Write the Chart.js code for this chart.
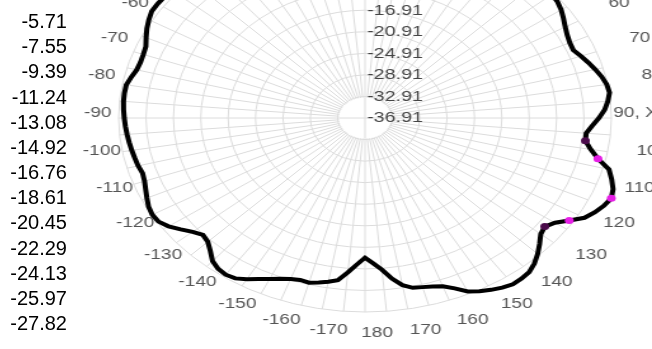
<!DOCTYPE html>
<html>
<head>
<meta charset="utf-8">
<script src="https://cdn.jsdelivr.net/npm/chart.js@4.4.1/dist/chart.umd.min.js"></script>
<style>
  html, body { margin: 0; padding: 0; background: #fff; width: 652px; height: 349px; overflow: hidden; }
  #scaleList {
    position: absolute; left: 0; top: 9px; width: 67px; z-index: 2;
    text-align: right; font: 20px Arial, "Liberation Sans", sans-serif;
    line-height: 25.17px; color: #000;
  }
  #polarChart {
    position: absolute; left: 65px; top: -126px;
    transform: scaleX(1.27); transform-origin: 300px 244px;
  }
</style>
</head>
<body>
<div id="scaleList"></div>
<canvas id="polarChart" width="600" height="489"></canvas>
<script>
// colour scale values shown on the left
const legendValues = [-5.71, -7.55, -9.39, -11.24, -13.08, -14.92, -16.76, -18.61, -20.45, -22.29, -24.13, -25.97, -27.82];

// radial rings
const ringMin = -36.91;
const ringMax = -0.91;
const ringStep = 4;

// angle categories, every 2.5 degrees clockwise from top
const angles = [];
for (let a = 0; a < 360; a += 2.5) angles.push(a);

// pattern values per angle (dB)
const gain = [
  -1.10, -1.10, -1.00, -0.91, -0.91, -1.00, -1.10, -1.28, -1.47, -1.56,
  -1.66, -1.56, -1.47, -1.28, -1.10, -1.00, -0.91, -1.00, -1.10, -1.19,
  -1.28, -1.47, -1.92, -2.53, -3.13, -3.60, -3.89, -3.97, -3.33, -2.70,
  -2.08, -1.49, -1.04, -0.87, -1.30, -1.86, -2.72, -3.69, -4.47, -4.43,
  -3.43, -2.05, 0.00, 0.88, 1.66, 2.04, 1.61, 0.97, 0.12, -1.53,
  -3.02, -3.80, -3.39, -2.31, -1.23, -0.28, 0.41, 0.66, 0.75, 0.40,
  -0.09, -0.67, -1.41, -2.68, -3.67, -4.14, -4.42, -4.64, -5.42, -6.84,
  -8.67, -9.94, -10.98, -9.70, -8.15, -6.54, -6.04, -5.65, -5.27, -5.39,
  -5.12, -4.60, -3.95, -3.24, -2.38, -1.62, -1.41, -1.64, -2.25, -3.45,
  -4.42, -4.79, -4.02, -2.96, -1.86, -1.13, -1.02, -1.26, -1.75, -2.22,
  -2.63, -2.83, -2.59, -2.46, -2.31, -2.16, -2.01, -1.86, -1.73, -1.60,
  -1.49, -1.45, -1.49, -1.92, -2.38, -2.51, -2.44, -2.25, -1.62, -0.98,
  -0.44, 0.02, 0.06, 0.02, -0.16, -0.26, -0.35, -0.44, -0.54, -0.63,
  -0.72, -0.82, -0.91, -0.91, -1.00, -1.00, -1.10, -1.10, -1.10, -1.10,
  -1.10, -1.10, -1.10, -1.10
];

// marked points on the curve
const markerAngles = [97.5, 102.5, 112.5, 122.5, 127.5];
const markerColors = ["#4a0a4a", "#e61ee6", "#e61ee6", "#e61ee6", "#4a0a4a"];

document.addEventListener("DOMContentLoaded", function () {
  document.getElementById("scaleList").innerHTML = legendValues
    .map((v) => "<div>" + v.toFixed(2) + "</div>")
    .join("");

  Chart.defaults.font.family = 'Arial, "Liberation Sans", sans-serif';

  const gridColor = "#dcdcdc";

  const angleText = (a) => {
    if (a === 90) return "90, X";
    return String(a <= 180 ? a : a - 360);
  };

  // blank disc inside the first ring, only the two axes cross it
  const innerDisc = {
    id: "innerDisc",
    beforeDatasetsDraw(chart) {
      const s = chart.scales.r;
      const ctx = chart.ctx;
      const rad = s.getDistanceFromCenterForValue(ringMin + ringStep) - 1;
      ctx.save();
      ctx.fillStyle = "#fff";
      ctx.beginPath();
      ctx.arc(s.xCenter, s.yCenter, rad, 0, Math.PI * 2);
      ctx.fill();
      ctx.strokeStyle = gridColor;
      ctx.lineWidth = 1;
      ctx.beginPath();
      ctx.moveTo(s.xCenter - rad, s.yCenter);
      ctx.lineTo(s.xCenter + rad, s.yCenter);
      ctx.moveTo(s.xCenter, s.yCenter - rad);
      ctx.lineTo(s.xCenter, s.yCenter + rad);
      ctx.stroke();
      ctx.restore();
    },
  };

  // angle labels, centred on a ring just outside the plot
  const angleLabels = {
    id: "angleLabels",
    afterDraw(chart) {
      const s = chart.scales.r;
      const ctx = chart.ctx;
      ctx.save();
      ctx.font = "15px " + Chart.defaults.font.family;
      ctx.fillStyle = "#555";
      ctx.textBaseline = "middle";
      angles.forEach((a, i) => {
        if (a % 10 !== 0) return;
        if (a === 90) {
          const p = s.getPointPosition(i, s.drawingArea + 1.5);
          ctx.textAlign = "left";
          ctx.fillText(angleText(a), p.x, p.y - 5);
          return;
        }
        const p = s.getPointPosition(i, s.drawingArea + 26);
        ctx.textAlign = "center";
        ctx.fillText(angleText(a), p.x + 9.5, p.y - 5);
      });
      ctx.restore();
    },
  };

  const markerIndex = (i) => markerAngles.indexOf(angles[i]);

  new Chart(document.getElementById("polarChart"), {
    type: "radar",
    data: {
      labels: angles,
      datasets: [
        {
          data: gain,
          borderColor: "#000",
          borderWidth: 4,
          fill: false,
          tension: 0,
          pointRadius: (ctx) => (markerIndex(ctx.dataIndex) >= 0 ? 3.5 : 0),
          pointBackgroundColor: (ctx) => {
            const m = markerIndex(ctx.dataIndex);
            return m >= 0 ? markerColors[m] : "#000";
          },
          pointBorderWidth: 0,
        },
      ],
    },
    options: {
      responsive: false,
      animation: false,
      layout: { padding: { top: 40, bottom: 40, left: 0, right: 0 } },
      plugins: {
        legend: { display: false },
        tooltip: { enabled: false },
      },
      scales: {
        r: {
          min: ringMin,
          max: ringMax,
          ticks: {
            stepSize: ringStep,
            z: 1,
            color: "#444",
            font: { size: 15.5 },
            showLabelBackdrop: false,
            // pad with spaces so the centred text sits right of the axis
            callback: (v) => " ".repeat(11) + v.toFixed(2),
          },
          grid: { circular: true, color: gridColor, lineWidth: 1 },
          angleLines: {
            color: (ctx) => (ctx.index % 2 === 0 ? gridColor : "transparent"),
            lineWidth: 1,
          },
          pointLabels: { display: false },
        },
      },
    },
    plugins: [innerDisc, angleLabels],
  });
});
</script>
</body>
</html>
